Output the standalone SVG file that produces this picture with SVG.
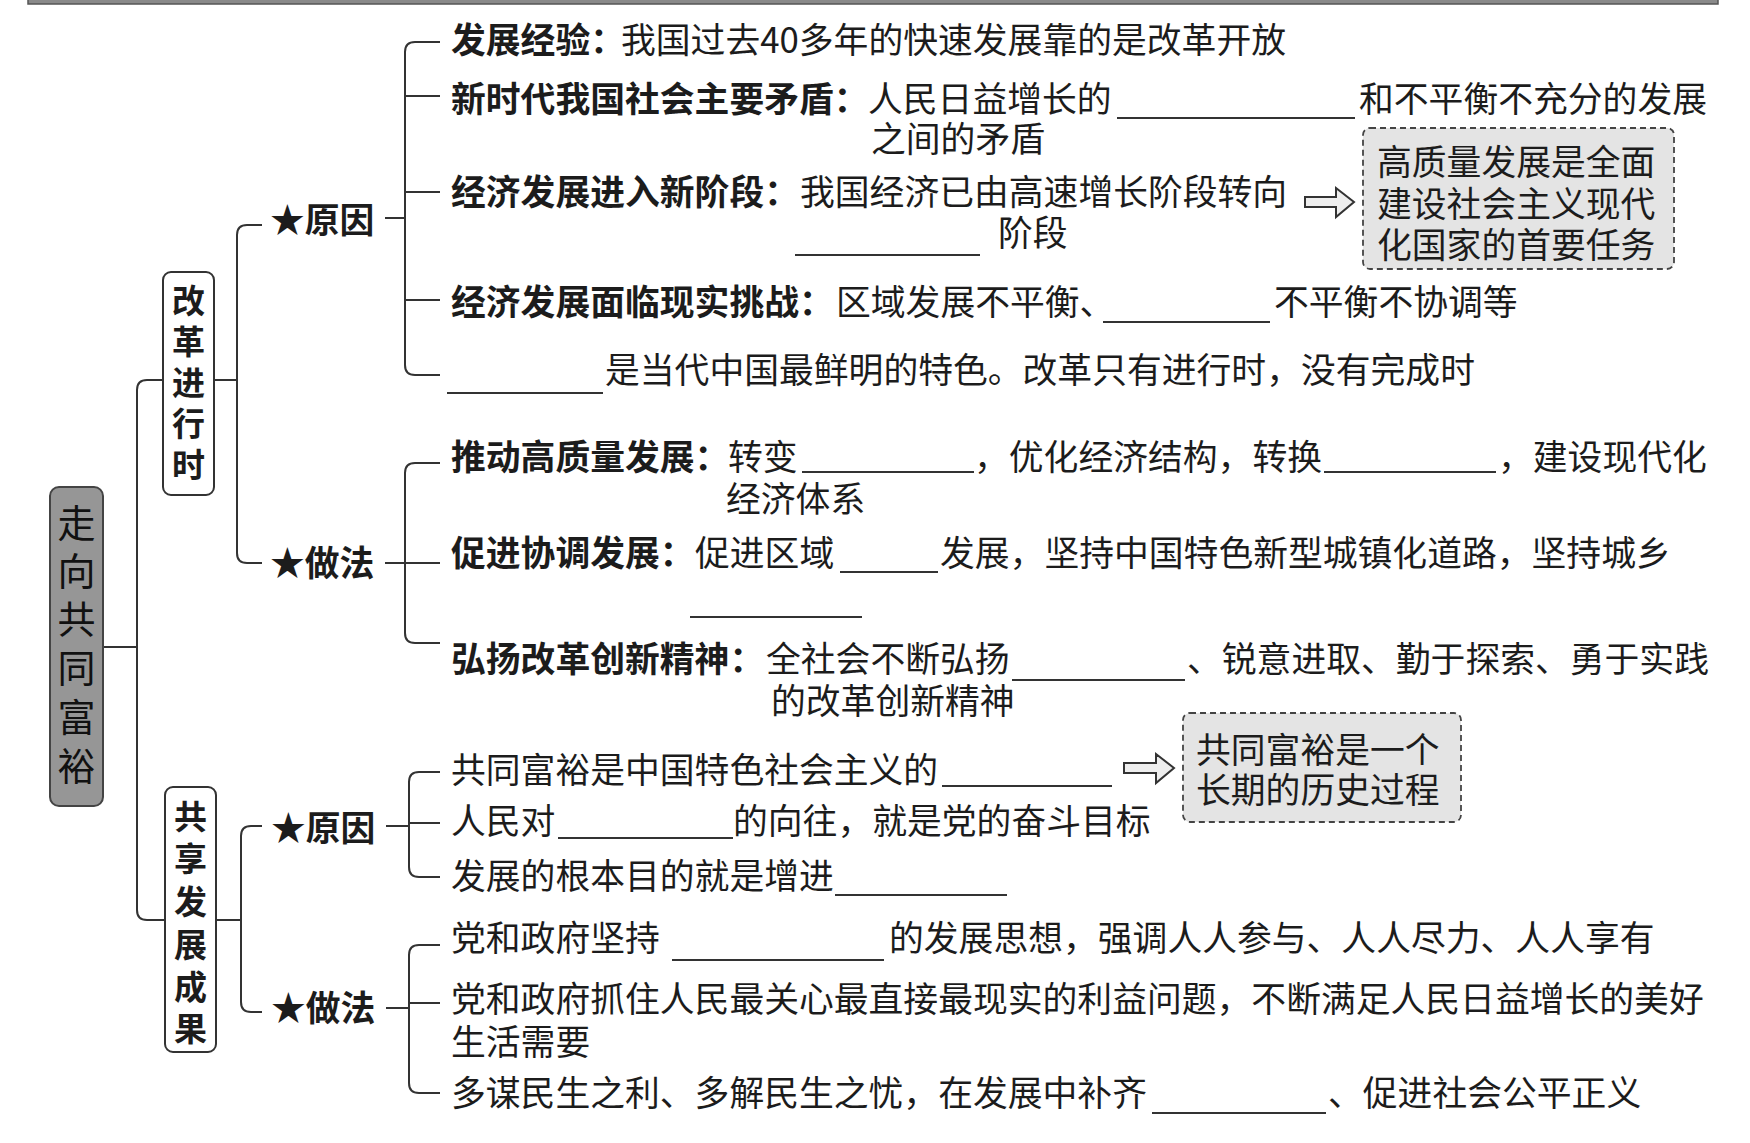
<svg xmlns="http://www.w3.org/2000/svg" width="1750" height="1143" viewBox="0 0 1750 1143">
<style>
text{font-family:"Noto Sans CJK SC","Noto Sans",sans-serif;fill:#1c1c1c;dominant-baseline:central;}
.t{font-size:34.8px;}
.b{font-size:34.8px;font-weight:bold;}
.lab{font-size:34.8px;font-weight:bold;}
.v{font-size:33px;font-weight:bold;text-anchor:middle;}
.m{font-size:38px;text-anchor:middle;fill:#111;}
.c{fill:none;stroke:#333;stroke-width:2;}
.u{stroke:#333;stroke-width:1.8;}
.box{fill:#fff;stroke:#333;stroke-width:2;}
.dash{fill:#e4e4e4;stroke:#444;stroke-width:1.8;stroke-dasharray:6 4;}
.arr{fill:#eee;stroke:#333;stroke-width:2;stroke-linejoin:miter;}
</style>
<rect width="1750" height="1143" fill="#fff"/>
<rect x="28" y="-3" width="1690" height="7" fill="#8a8a8a" stroke="#555" stroke-width="1.5"/>

<g id="connectors">
<path class="c" d="M103 647 H137"/>
<path class="c" d="M163 380 H147 Q137 380 137 390 V910 Q137 920 147 920 H165"/>
<path class="c" d="M214 380 H237"/>
<path class="c" d="M262 225 H247 Q237 225 237 235 V553 Q237 563 247 563 H262"/>
<path class="c" d="M385 218 H405"/>
<path class="c" d="M440 42 H415 Q405 42 405 52 V365 Q405 375 415 375 H440"/>
<path class="c" d="M405 96 H440 M405 192 H440 M405 300 H440"/>
<path class="c" d="M385 563 H405"/>
<path class="c" d="M440 463 H415 Q405 463 405 473 V633 Q405 643 415 643 H440"/>
<path class="c" d="M405 563 H440"/>
<path class="c" d="M216 920 H241"/>
<path class="c" d="M262 826 H251 Q241 826 241 836 V1002 Q241 1012 251 1012 H262"/>
<path class="c" d="M386 826 H409"/>
<path class="c" d="M440 772 H419 Q409 772 409 782 V867 Q409 877 419 877 H440"/>
<path class="c" d="M409 823 H440"/>
<path class="c" d="M386 1008 H409"/>
<path class="c" d="M440 945 H419 Q409 945 409 955 V1083 Q409 1093 419 1093 H440"/>
<path class="c" d="M409 1003 H440"/>
<path class="arr" d="M1305 197 H1336 V188 L1354 202 L1336 217 V207 H1305 Z"/>
<path class="arr" d="M1124 763 H1156 V754 L1174 768 L1156 783 V773 H1124 Z"/>
</g>

<g id="root">
<rect x="50" y="487" width="53" height="319" rx="9" fill="#969696" stroke="#444" stroke-width="2"/>
<text class="m"><tspan x="76.5" y="520">走</tspan><tspan x="76.5" y="568">向</tspan><tspan x="76.5" y="616">共</tspan><tspan x="76.5" y="665">同</tspan><tspan x="76.5" y="714">富</tspan><tspan x="76.5" y="763">裕</tspan></text>
</g>

<g id="reform">
<rect class="box" x="163" y="272" width="51" height="223" rx="8"/>
<text class="v"><tspan x="188.5" y="299">改</tspan><tspan x="188.5" y="340">革</tspan><tspan x="188.5" y="381">进</tspan><tspan x="188.5" y="422">行</tspan><tspan x="188.5" y="463">时</tspan></text>
</g>

<g id="share">
<rect class="box" x="165" y="787" width="51" height="265" rx="8"/>
<text class="v"><tspan x="190.5" y="815">共</tspan><tspan x="190.5" y="857">享</tspan><tspan x="190.5" y="900">发</tspan><tspan x="190.5" y="943">展</tspan><tspan x="190.5" y="985">成</tspan><tspan x="190.5" y="1027">果</tspan></text>
</g>

<g id="reason1"><text class="lab" x="270" y="218">★原因</text></g>
<g id="method1"><text class="lab" x="270" y="561">★做法</text></g>
<g id="reason2"><text class="lab" x="271" y="826">★原因</text></g>
<g id="method2"><text class="lab" x="271" y="1006">★做法</text></g>

<g id="r1-experience">
<text class="b" x="451" y="38">发展经验：</text>
<text class="t" x="621" y="38">我国过去40多年的快速发展靠的是改革开放</text>
</g>
<g id="r1-contradiction">
<text class="b" x="451" y="97">新时代我国社会主要矛盾：</text>
<text class="t"><tspan x="868" y="97">人民日益增长的</tspan><tspan x="871" y="137">之间的矛盾</tspan></text>
<line class="u" x1="1117" y1="118" x2="1355" y2="118"/>
<text class="t" x="1359" y="97">和不平衡不充分的发展</text>
</g>
<g id="r1-newstage">
<text class="b" x="451" y="190">经济发展进入新阶段：</text>
<text class="t"><tspan x="800" y="190">我国经济已由高速增长阶段转向</tspan><tspan x="998" y="231">阶段</tspan></text>
<line class="u" x1="795" y1="255" x2="980" y2="255"/>
</g>
<g id="note-quality">
<rect class="dash" x="1363" y="128" width="311" height="141" rx="7"/>
<text class="t"><tspan x="1377" y="160">高质量发展是全面</tspan><tspan x="1377" y="202">建设社会主义现代</tspan><tspan x="1377" y="243">化国家的首要任务</tspan></text>
</g>
<g id="r1-challenge">
<text class="b" x="451" y="300">经济发展面临现实挑战：</text>
<text class="t" x="836" y="300">区域发展不平衡、</text>
<line class="u" x1="1103" y1="322" x2="1270" y2="322"/>
<text class="t" x="1274" y="300">不平衡不协调等</text>
</g>
<g id="r1-feature">
<line class="u" x1="447" y1="393" x2="603" y2="393"/>
<text class="t" x="605" y="368">是当代中国最鲜明的特色。改革只有进行时，没有完成时</text>
</g>

<g id="m1-quality">
<text class="b" x="451" y="455">推动高质量发展：</text>
<text class="t"><tspan x="728" y="455">转变</tspan><tspan x="726" y="497">经济体系</tspan></text>
<line class="u" x1="802" y1="472" x2="974" y2="472"/>
<text class="t" x="974" y="455">，优化经济结构，转换</text>
<line class="u" x1="1324" y1="472" x2="1496" y2="472"/>
<text class="t" x="1498" y="455">，建设现代化</text>
</g>
<g id="m1-coordinate">
<text class="b" x="451" y="551">促进协调发展：</text>
<text class="t" x="695" y="551">促进区域</text>
<line class="u" x1="840" y1="572" x2="938" y2="572"/>
<text class="t" x="940" y="551">发展，坚持中国特色新型城镇化道路，坚持城乡</text>
<line class="u" x1="690" y1="617" x2="862" y2="617"/>
</g>
<g id="m1-spirit">
<text class="b" x="451" y="657">弘扬改革创新精神：</text>
<text class="t"><tspan x="766" y="657">全社会不断弘扬</tspan><tspan x="771" y="699">的改革创新精神</tspan></text>
<line class="u" x1="1012" y1="680" x2="1185" y2="680"/>
<text class="t" x="1187" y="657">、锐意进取、勤于探索、勇于实践</text>
</g>

<g id="r2-essence">
<text class="t" x="451" y="768">共同富裕是中国特色社会主义的</text>
<line class="u" x1="942" y1="786" x2="1112" y2="786"/>
</g>
<g id="note-process">
<rect class="dash" x="1183" y="713" width="278" height="109" rx="7"/>
<text class="t"><tspan x="1196" y="748">共同富裕是一个</tspan><tspan x="1196" y="788">长期的历史过程</tspan></text>
</g>
<g id="r2-yearning">
<text class="t" x="451" y="819">人民对</text>
<line class="u" x1="558" y1="838" x2="733" y2="838"/>
<text class="t" x="733" y="819">的向往，就是党的奋斗目标</text>
</g>
<g id="r2-purpose">
<text class="t" x="451" y="874">发展的根本目的就是增进</text>
<line class="u" x1="835" y1="895" x2="1007" y2="895"/>
</g>

<g id="m2-idea">
<text class="t" x="451" y="936">党和政府坚持</text>
<line class="u" x1="672" y1="960" x2="884" y2="960"/>
<text class="t" x="889" y="936">的发展思想，强调人人参与、人人尽力、人人享有</text>
</g>
<g id="m2-needs">
<text class="t"><tspan x="451" y="997">党和政府抓住人民最关心最直接最现实的利益问题，不断满足人民日益增长的美好</tspan><tspan x="451" y="1040">生活需要</tspan></text>
</g>
<g id="m2-welfare">
<text class="t" x="451" y="1091">多谋民生之利、多解民生之忧，在发展中补齐</text>
<line class="u" x1="1152" y1="1113" x2="1326" y2="1113"/>
<text class="t" x="1328" y="1091">、促进社会公平正义</text>
</g>
</svg>
